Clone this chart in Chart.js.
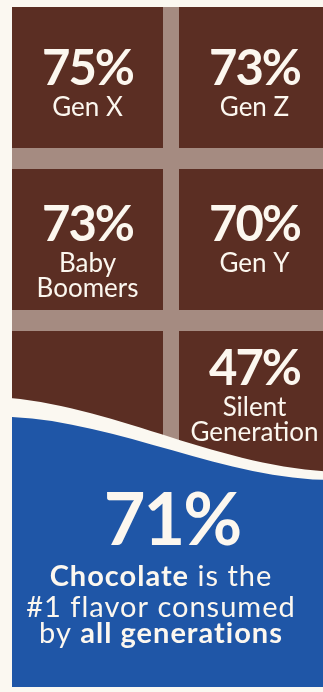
<!DOCTYPE html>
<html>
<head>
<meta charset="utf-8">
<script src="https://cdn.jsdelivr.net/npm/chart.js@4.4.1/dist/chart.umd.min.js"></script>
<style>
  html, body { margin: 0; padding: 0; background: #fbf8f1; overflow: hidden; }
  #wrap { position: relative; width: 338px; height: 692px; }
</style>
</head>
<body>
<div id="wrap"><canvas id="chart" width="338" height="692"></canvas></div>
<script>
// Share of each generation that eats chocolate, one square of the bar per generation
const columns = ['left', 'right'];
const rows = ['top', 'middle', 'bottom'];
const generations = [['Gen X'], ['Gen Z'], ['Baby', 'Boomers'], ['Gen Y'], [], ['Silent', 'Generation']];
const shares = [75, 73, 73, 70, null, 47];
const overallShare = 71;
const summaryLines = [
  [['Chocolate', true], [' is the', false]],
  [['#1 flavor consumed', false]],
  [['by ', false], ['all generations', true]]
];

const COLORS = {
  paper: '#fbf8f1',
  chocolate: '#5b2e23',
  groove: '#a58b81',
  blue: '#1f56a7',
  ink: '#fcf7ef'
};
const FONT = 'Lato, "Open Sans", sans-serif';

// Each square fills most of its row; the rest is the groove between squares
const SQUARE = 0.87;
const datasets = rows.map((row, r) => ({
  label: row,
  data: columns.map(() => [r, r + SQUARE]),
  backgroundColor: COLORS.chocolate,
  borderWidth: 0,
  grouped: false,
  categoryPercentage: 1,
  barPercentage: 151 / 167
}));

function cellBox(chart, r, c) {
  const el = chart.getDatasetMeta(r).data[c];
  return {
    x: el.x,
    left: el.x - el.width / 2,
    top: Math.min(el.y, el.base),
    bottom: Math.max(el.y, el.base)
  };
}

// one line made of regular and bold runs, centred on cx
function drawRuns(ctx, runs, cx, y, size, spacing) {
  ctx.letterSpacing = spacing + 'px';
  const fonts = runs.map(([, bold]) => (bold ? 'bold ' : '') + size + 'px ' + FONT);
  const widths = runs.map(([t], i) => { ctx.font = fonts[i]; return ctx.measureText(t).width; });
  let x = cx - widths.reduce((a, b) => a + b, 0) / 2;
  ctx.textAlign = 'left';
  runs.forEach(([t], i) => { ctx.font = fonts[i]; ctx.fillText(t, x, y); x += widths[i]; });
  ctx.letterSpacing = '0px';
}

const chocolateBar = {
  id: 'chocolateBar',
  beforeDatasetsDraw(chart) {
    const { ctx } = chart;
    const a = cellBox(chart, 0, 0);
    const b = cellBox(chart, rows.length - 1, columns.length - 1);
    ctx.save();
    ctx.fillStyle = COLORS.groove;
    ctx.fillRect(a.left, a.top, chart.width - a.left, b.bottom - a.top);
    ctx.restore();
  },
  afterDatasetsDraw(chart) {
    const { ctx } = chart;
    const W = chart.width;
    const x0 = cellBox(chart, 0, 0).left;

    // bitten edge: a pale band, then the blue summary panel
    ctx.save();
    ctx.fillStyle = COLORS.paper;
    ctx.beginPath();
    ctx.moveTo(x0 - 2, 398);
    ctx.bezierCurveTo(120, 408, 220, 468, W, 472);
    ctx.lineTo(W, chart.height);
    ctx.lineTo(x0 - 2, chart.height);
    ctx.closePath();
    ctx.fill();

    ctx.fillStyle = COLORS.blue;
    ctx.beginPath();
    ctx.moveTo(x0, 417);
    ctx.bezierCurveTo(120, 422, 230, 482, W, 480);
    ctx.lineTo(W, 687);
    ctx.lineTo(x0, 687);
    ctx.closePath();
    ctx.fill();

    // labels on each square
    const pctDrop = [78, 72, 54];
    ctx.fillStyle = COLORS.ink;
    ctx.textBaseline = 'alphabetic';
    rows.forEach((row, r) => {
      columns.forEach((col, c) => {
        const i = r * columns.length + c;
        if (shares[i] == null) return;
        const box = cellBox(chart, r, c);
        const base = box.top + pctDrop[r];
        ctx.textAlign = 'center';
        ctx.font = 'bold 49px ' + FONT;
        ctx.letterSpacing = '-2px';
        ctx.fillText(shares[i] + '%', box.x, base);
        ctx.letterSpacing = '0px';
        ctx.font = '26px ' + FONT;
        generations[i].forEach((line, k) => {
          ctx.fillText(line, box.x, base + 31 + k * 25);
        });
      });
    });

    // summary panel text
    ctx.textAlign = 'center';
    ctx.font = 'bold 72px ' + FONT;
    ctx.letterSpacing = '-2px';
    ctx.fillText(overallShare + '%', 172, 545);
    ctx.letterSpacing = '0px';
    const lineY = [586, 617, 643];
    summaryLines.forEach((runs, k) => drawRuns(ctx, runs, 161, lineY[k], 29, 1));
    ctx.restore();
  }
};

new Chart(document.getElementById('chart'), {
  type: 'bar',
  data: { labels: columns, datasets },
  options: {
    responsive: false,
    animation: false,
    devicePixelRatio: 1,
    layout: { padding: { top: 7, left: 4, right: 0, bottom: 0 } },
    scales: {
      x: { type: 'category', display: false, offset: true, stacked: false },
      y: { type: 'linear', display: false, reverse: true, min: 0, max: 685 / 162 }
    },
    plugins: { legend: { display: false }, tooltip: { enabled: false } }
  },
  plugins: [chocolateBar]
});
</script>
</body>
</html>
